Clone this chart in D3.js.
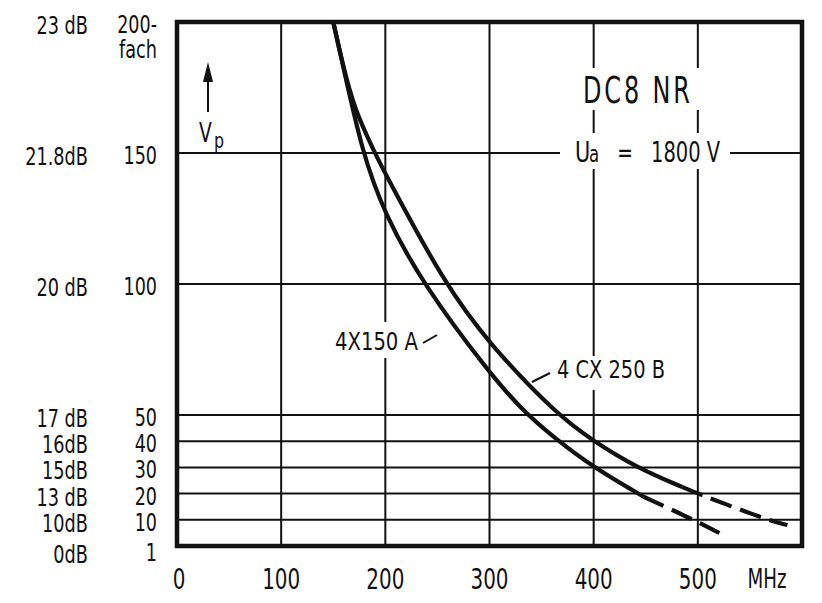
<!DOCTYPE html>
<html>
<head>
<meta charset="utf-8">
<script src="https://cdn.jsdelivr.net/npm/d3@7"></script>
<style>
    body { margin: 0; background: #fff; }
    text { font-family: "DejaVu Sans Condensed", "DejaVu Sans", sans-serif; fill: #111; }
</style>
</head>
<body>
<script>
const width = 822;
const height = 603;

// frequency axis (MHz)
const freqTicks = [0, 100, 200, 300, 400, 500];
// gain axis (fach) with the matching dB column
const gainTicks = [0, 10, 20, 30, 40, 50, 100, 150, 200];
const gainLabels = ["1", "10", "20", "30", "40", "50", "100", "150", "200-"];
const dbLabels = ["0dB", "10dB", "13 dB", "15dB", "16dB", "17 dB", "20 dB", "21.8dB", "23 dB"];

// curves: [MHz, fach]
const tube4x150a = [[150, 200], [159, 184], [178, 150], [199, 127], [236, 100], [300, 66],
    [331, 52], [363, 41], [400, 30], [443, 20], [448, 18.8], [496, 10], [523, 4.5]];
const tube4cx250b = [[150, 200], [159, 184], [170, 167], [190, 150], [200, 142], [257, 100],
    [300, 77], [365, 50], [400, 40], [441, 30], [485, 22.5], [500, 20], [566, 10], [586, 8]];
const dashFrom4x150a = 448;
const dashFrom4cx250b = 485;

const x = d3.scaleLinear().domain([0, 600]).range([177, 802]);
const y = d3.scaleLinear().domain([0, 200]).range([546, 22]);

const svg = d3.select("body")
    .append("svg")
    .attr("width", width)
    .attr("height", height);

// narrow lettering: DejaVu squeezed sideways
function label(px, py, str, size, anchor, sx) {
    return svg.append("text")
        .attr("transform", `translate(${px},${py}) scale(${sx},1)`)
        .attr("text-anchor", anchor)
        .attr("font-size", size)
        .text(str);
}

// grid
svg.append("g")
    .selectAll("line")
    .data(freqTicks.slice(1))
    .enter().append("line")
    .attr("x1", d => x(d)).attr("x2", d => x(d))
    .attr("y1", y(0)).attr("y2", y(200))
    .attr("stroke", "#111").attr("stroke-width", 2);

svg.append("g")
    .selectAll("line")
    .data(gainTicks.slice(1, -1))
    .enter().append("line")
    .attr("x1", x(0)).attr("x2", x(600))
    .attr("y1", d => y(d)).attr("y2", d => y(d))
    .attr("stroke", "#111").attr("stroke-width", 2);

// frame
svg.append("rect")
    .attr("x", x(0)).attr("y", y(200))
    .attr("width", x(600) - x(0)).attr("height", y(0) - y(200))
    .attr("fill", "none").attr("stroke", "#111").attr("stroke-width", 4.5);

// axis labels
svg.append("g")
    .selectAll("text")
    .data(freqTicks)
    .enter().append("text")
    .attr("transform", d => `translate(${x(d) + (d === 0 ? 2 : 0)},589) scale(0.79,1)`)
    .attr("text-anchor", "middle")
    .attr("font-size", 28)
    .text(d => d);

label(767, 588, "MHz", 26, "middle", 0.78);

svg.append("g")
    .selectAll("text")
    .data(gainTicks)
    .enter().append("text")
    .attr("transform", d => `translate(157,${y(d) + (d === 0 ? 15 : 11)}) scale(0.78,1)`)
    .attr("text-anchor", "end")
    .attr("font-size", 25)
    .text((d, i) => gainLabels[i]);

label(157, 58, "fach", 24, "end", 0.82);

svg.append("g")
    .selectAll("text")
    .data(gainTicks)
    .enter().append("text")
    .attr("transform", d => `translate(88,${y(d) + (d === 0 ? 17 : 12)}) scale(0.82,1)`)
    .attr("text-anchor", "end")
    .attr("font-size", 24)
    .text((d, i) => dbLabels[i]);

// V_p arrow
svg.append("line")
    .attr("x1", 208).attr("x2", 208)
    .attr("y1", 112).attr("y2", 78)
    .attr("stroke", "#111").attr("stroke-width", 2);
svg.append("path")
    .attr("d", "M208,62 L203,82 L213,82 Z")
    .attr("fill", "#111");
label(199, 142, "V", 26, "start", 0.8);
label(214, 148, "p", 22, "start", 0.8);

// curves
const line = d3.line()
    .x(d => x(d[0]))
    .y(d => y(d[1]))
    .curve(d3.curveBasis);

function drawTube(points, dashFrom) {
    svg.append("path")
        .datum(points.filter(p => p[0] <= dashFrom))
        .attr("d", line)
        .attr("fill", "none").attr("stroke", "#111").attr("stroke-width", 4.2);
    svg.append("path")
        .datum(points.filter(p => p[0] >= dashFrom))
        .attr("d", line)
        .attr("fill", "none").attr("stroke", "#111").attr("stroke-width", 4.2)
        .attr("stroke-dasharray", "22,9");
}

drawTube(tube4x150a, dashFrom4x150a);
drawTube(tube4cx250b, dashFrom4cx250b);

// labels with white knock-out behind them
function knockOut(x0, y0, w, h) {
    svg.append("rect")
        .attr("x", x0).attr("y", y0)
        .attr("width", w).attr("height", h)
        .attr("fill", "#fff");
}

knockOut(572, 68, 136, 42);
label(583, 103, "DC8 NR", 37, "start", 0.72)
    .attr("letter-spacing", 4);

knockOut(560, 133, 170, 36);
label(575, 162, "U", 29, "start", 0.8);
label(589, 162, "a", 23, "start", 0.8);
label(625, 162, "=", 26, "middle", 0.8);
svg.append("text")
    .attr("x", 651).attr("y", 162)
    .attr("font-size", 29)
    .attr("textLength", 69)
    .attr("lengthAdjust", "spacingAndGlyphs")
    .text("1800 V");

knockOut(332, 322, 90, 36);
svg.append("text")
    .attr("x", 335).attr("y", 350)
    .attr("font-size", 24)
    .attr("textLength", 83)
    .attr("lengthAdjust", "spacingAndGlyphs")
    .text("4X150 A");
svg.append("line")
    .attr("x1", 423).attr("y1", 343)
    .attr("x2", 437).attr("y2", 335)
    .attr("stroke", "#111").attr("stroke-width", 2);

knockOut(554, 356, 115, 34);
svg.append("text")
    .attr("x", 557).attr("y", 378)
    .attr("font-size", 24)
    .attr("textLength", 108)
    .attr("lengthAdjust", "spacingAndGlyphs")
    .text("4 CX  250 B");
svg.append("line")
    .attr("x1", 532).attr("y1", 382)
    .attr("x2", 550).attr("y2", 373)
    .attr("stroke", "#111").attr("stroke-width", 2);
</script>
</body>
</html>
